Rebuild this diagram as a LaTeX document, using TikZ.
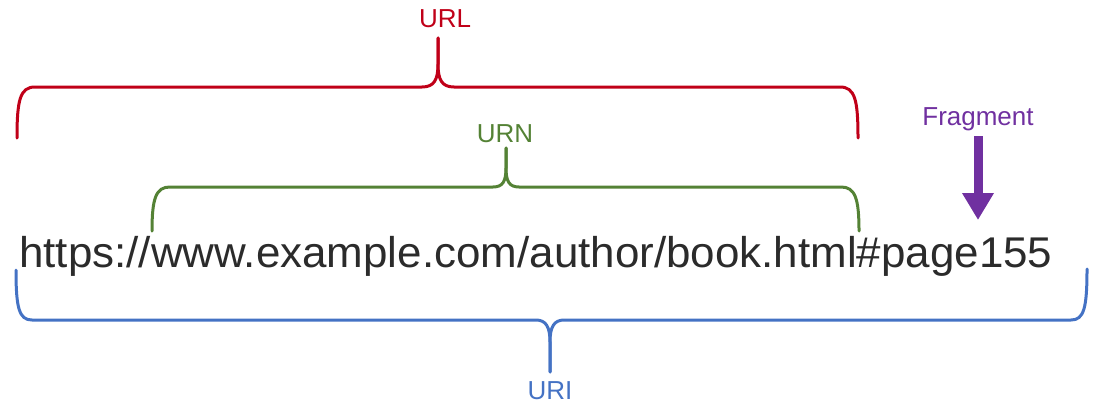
\documentclass[tikz,border=0pt]{standalone}
\usepackage{fontspec}
\setmainfont{Liberation Sans}
\usetikzlibrary{arrows.meta}
\definecolor{urlred}{HTML}{C00018}
\definecolor{urngreen}{HTML}{548235}
\definecolor{uriblue}{HTML}{4472C4}
\definecolor{fragpurple}{HTML}{7030A0}
\definecolor{txtgray}{HTML}{2B2B2B}
\tikzset{
  bracestyle/.style={line width=3pt, line cap=round, line join=round},
  lbl/.style={inner sep=0pt, anchor=base, font=\fontsize{26}{30}\selectfont},
}
\begin{document}
\begin{tikzpicture}[x=1pt,y=-1pt]
\useasboundingbox (0,0) rectangle (1094,404);
% main text
\node[inner sep=0pt, anchor=base west, text=txtgray, font=\fontsize{43}{50}\selectfont] (addr) at (19,267) {\scalebox{1.022}[1]{https://www.example.com/author/book.html\#page155}};
% labels
\node[lbl, text=urlred] (url) at (445,28) {URL};
\node[lbl, text=urngreen] (urn) at (505,142) {URN};
\node[lbl, text=fragpurple] (frag) at (978,125) {Fragment};
\node[lbl, text=uriblue] (uri) at (550,399) {URI};
% coordinates
\coordinate (urlL) at (17,138);
\coordinate (urlR) at (858,138);
\coordinate (urlT) at (438,38);
\coordinate (urnL) at (152,231);
\coordinate (urnR) at (859,231);
\coordinate (urnT) at (506,148);
\coordinate (uriL) at (16,270);
\coordinate (uriR) at (1087,269);
\coordinate (uriT) at (550,372);
\coordinate (fragTip) at (978,220);
% URL brace
\draw[bracestyle, urlred] (urlL) .. controls (17,100) and (20,87) .. (35,87) -- (422,87)
  .. controls (434,87) and (438,80) .. (438,64) -- (urlT);
\draw[bracestyle, urlred] (urlR) .. controls (858,100) and (855,87) .. (840,87) -- (454,87)
  .. controls (442,87) and (438,80) .. (438,64) -- (urlT);
% URN brace
\draw[bracestyle, urngreen] (urnL) .. controls (152,198) and (156,187) .. (170,187) -- (493,187)
  .. controls (503,187) and (506,181) .. (506,168) -- (urnT);
\draw[bracestyle, urngreen] (urnR) .. controls (859,198) and (855,187) .. (841,187) -- (519,187)
  .. controls (509,187) and (506,181) .. (506,168) -- (urnT);
% URI brace
\draw[bracestyle, uriblue] (uriL) .. controls (16,308) and (19,320) .. (32,320) -- (536,320)
  .. controls (546,320) and (550,327) .. (550,342) -- (uriT);
\draw[bracestyle, uriblue] (uriR) .. controls (1087,308) and (1084,320) .. (1071,320) -- (564,320)
  .. controls (554,320) and (550,327) .. (550,342) -- (uriT);
% fragment arrow
\draw[fragpurple, line width=9pt, -{Triangle[width=30pt,length=27pt]}] (978,136) -- (fragTip);
\end{tikzpicture}
\end{document}
